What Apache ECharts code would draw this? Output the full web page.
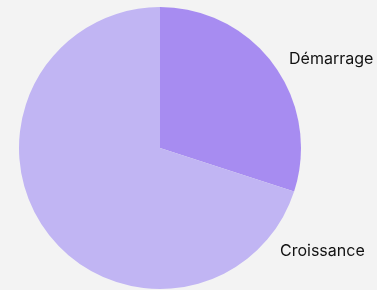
<!DOCTYPE html>
<html>
<head>
<meta charset="utf-8">
<script src="https://cdn.jsdelivr.net/npm/echarts@6/dist/echarts.min.js"></script>
<style>
  html, body { margin: 0; padding: 0; background: #f3f3f3; }
  #main { width: 377px; height: 290px; }
</style>
</head>
<body>
<div id="main"></div>
<script>
var categories = ["Démarrage", "Croissance"];
var values = [30, 70];
var colors = ["#a78cf1", "#c1b5f3"];
// label anchor points (left edge, vertical middle)
var labelPos = [[289, 59], [280, 251]];

var myChart = echarts.init(document.getElementById("main"));
myChart.setOption({
  backgroundColor: "#f3f3f3",
  animation: false,
  series: [
    {
      type: "pie",
      center: [160, 148],
      radius: 141,
      startAngle: 90,
      clockwise: true,
      data: categories.map(function (c, i) {
        return { name: c, value: values[i], itemStyle: { color: colors[i] } };
      }),
      label: {
        show: true,
        position: "outside",
        color: "#111111",
        fontFamily: "Inter",
        fontSize: 16,
        overflow: "none"
      },
      labelLine: { show: false },
      labelLayout: function (params) {
        var p = labelPos[params.dataIndex];
        return { x: p[0], y: p[1], align: "left", verticalAlign: "middle", hideOverlap: false };
      }
    }
  ]
});
</script>
</body>
</html>
